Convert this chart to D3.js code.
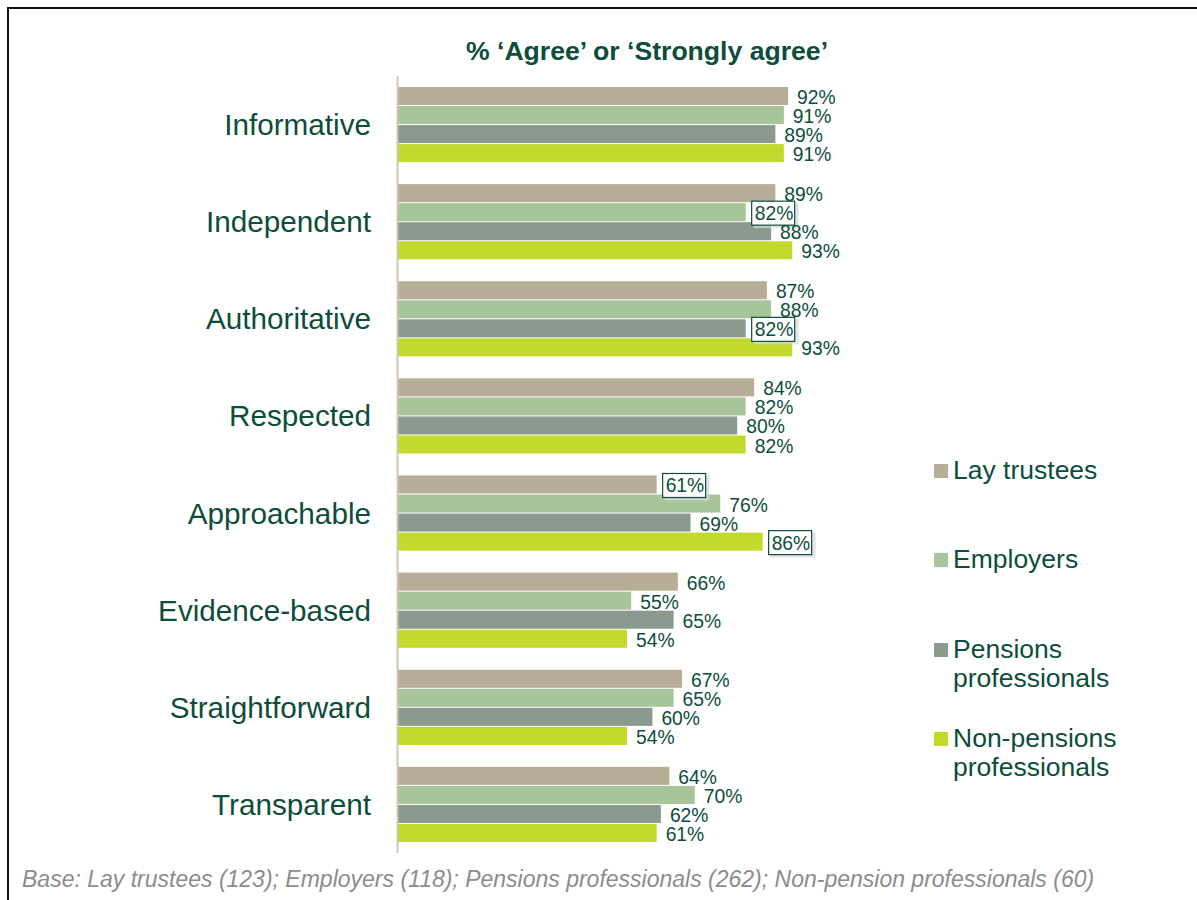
<!DOCTYPE html>
<html>
<head>
<meta charset="utf-8">
<script src="https://cdn.jsdelivr.net/npm/d3@7"></script>
<style>
  html, body { margin: 0; padding: 0; background: #fff; }
  svg { display: block; font-family: "Liberation Sans", Arial, sans-serif; }
</style>
</head>
<body>
<svg id="chart" width="1197" height="900"></svg>
<script>
// Attributes rated, in display order
const categories = ["Informative", "Independent", "Authoritative", "Respected",
  "Approachable", "Evidence-based", "Straightforward", "Transparent"];

// Respondent groups
const seriesNames = ["Lay trustees", "Employers", "Pensions professionals", "Non-pensions professionals"];
const legendLines = [["Lay trustees"], ["Employers"], ["Pensions", "professionals"], ["Non-pensions", "professionals"]];

// % 'Agree' or 'Strongly agree', one value per category
const layTrustees   = [92, 89, 87, 84, 61, 66, 67, 64];
const employers     = [91, 82, 88, 82, 76, 55, 65, 70];
const pensionsPros  = [89, 88, 82, 80, 69, 65, 60, 62];
const nonPensions   = [91, 93, 93, 82, 86, 54, 54, 61];
const seriesValues = [layTrustees, employers, pensionsPros, nonPensions];

// Value labels drawn in a callout box: [category, series index]
const boxedLabels = [["Independent", 1], ["Authoritative", 2], ["Approachable", 0], ["Approachable", 3]];

const titleText = "% \u2018Agree\u2019 or \u2018Strongly agree\u2019";
const baseNote = "Base: Lay trustees (123); Employers (118); Pensions professionals (262); Non-pension professionals (60)";

const colors = ["#b8ae97", "#a8c49a", "#8a9a8f", "#c3d92d"];
const textColor = "#0c4d3b";

const svg = d3.select("#chart");

// Frame lines (top and left)
svg.append("line").attr("x1", 7).attr("x2", 1197).attr("y1", 8).attr("y2", 8)
  .attr("stroke", "#111").attr("stroke-width", 2);
svg.append("line").attr("x1", 8).attr("x2", 8).attr("y1", 7).attr("y2", 900)
  .attr("stroke", "#111").attr("stroke-width", 2);

const x = d3.scaleLinear().domain([0, 100]).range([398, 822]);
const y = d3.scaleBand().domain(categories).range([76, 853]).padding(0);
const ySub = d3.scaleBand().domain(d3.range(seriesNames.length))
  .range([0, y.bandwidth()]).paddingInner(0).paddingOuter(0.55);

// Title
svg.append("text")
  .attr("x", 647).attr("y", 60)
  .attr("text-anchor", "middle")
  .attr("font-size", 26.6).attr("font-weight", "bold")
  .attr("fill", textColor)
  .text(titleText);

// Bars
const rows = [];
categories.forEach((c, ci) => {
  seriesValues.forEach((vals, si) => {
    rows.push({ cat: c, si, v: vals[ci] });
  });
});

const groups = svg.append("g");
groups.selectAll("rect.bar").data(rows).join("rect")
  .attr("class", "bar")
  .attr("x", x(0))
  .attr("y", d => y(d.cat) + ySub(d.si) + 0.5)
  .attr("width", d => x(d.v) - x(0))
  .attr("height", ySub.bandwidth() - 1)
  .attr("fill", d => colors[d.si]);

// Category axis line
svg.append("line")
  .attr("x1", x(0) - 0.5).attr("x2", x(0) - 0.5)
  .attr("y1", y.range()[0]).attr("y2", y.range()[1])
  .attr("stroke", "#cfc8b4").attr("stroke-width", 2);

// Category labels
svg.append("g").selectAll("text").data(categories).join("text")
  .attr("x", 371)
  .attr("y", d => y(d) + y.bandwidth() / 2 + 10.5)
  .attr("text-anchor", "end")
  .attr("font-size", 29.7)
  .attr("fill", textColor)
  .text(d => d);

// Value labels
const isBoxed = d => boxedLabels.some(b => b[0] === d.cat && b[1] === d.si);
const labels = svg.append("g").selectAll("g").data(rows).join("g")
  .attr("transform", d => `translate(${x(d.v) + 9},${y(d.cat) + ySub(d.si) + ySub.bandwidth() / 2 + 1})`);

labels.filter(isBoxed).each(function () {
  const g = d3.select(this);
  g.append("rect").attr("x", -1).attr("y", -10).attr("width", 45).attr("height", 25)
    .attr("fill", "#d8d8d8").attr("opacity", 0.7);
  g.append("rect").attr("x", -3).attr("y", -12).attr("width", 43).attr("height", 24)
    .attr("fill", "#fff").attr("stroke", textColor).attr("stroke-width", 1.2);
});

labels.append("text")
  .attr("x", 0).attr("y", 7)
  .attr("font-size", 19.3)
  .attr("fill", textColor)
  .text(d => d.v + "%");

// Legend
const legendY = [479, 568, 658, 747];
const legend = svg.append("g").selectAll("g").data(seriesNames).join("g")
  .attr("transform", (d, i) => `translate(934,${legendY[i]})`);
legend.append("rect").attr("x", 0).attr("y", -15).attr("width", 14).attr("height", 14)
  .attr("fill", (d, i) => colors[i]);
legend.append("text")
  .attr("x", 19).attr("y", 0)
  .attr("font-size", 26.5)
  .attr("fill", textColor)
  .selectAll("tspan").data((d, i) => legendLines[i]).join("tspan")
  .attr("x", 19).attr("dy", (d, j) => j === 0 ? 0 : 29)
  .text(d => d);

// Base note
svg.append("text")
  .attr("x", 22).attr("y", 887)
  .attr("font-size", 23).attr("font-style", "italic")
  .attr("fill", "#8c8c8c")
  .text(baseNote);
</script>
</body>
</html>
